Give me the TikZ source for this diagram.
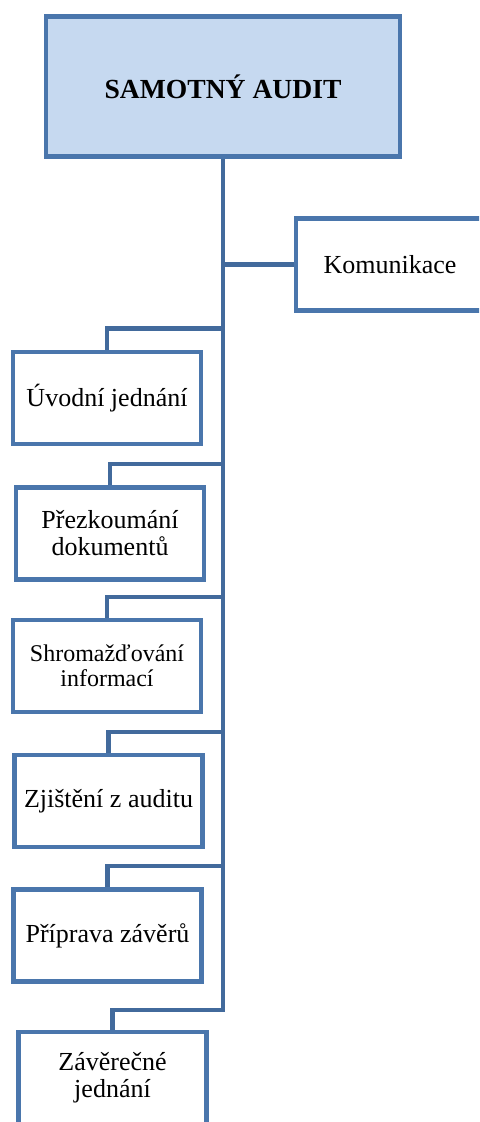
\documentclass[tikz,border=0pt]{standalone}
\usepackage{fontspec}
\setmainfont{Liberation Serif}
\usepackage{tikz}
\definecolor{frameblue}{RGB}{74,118,172}
\definecolor{linkblue}{RGB}{66,106,156}
\definecolor{headfill}{RGB}{198,217,240}

\begin{document}
\begin{tikzpicture}
[
x=0.5pt,y=-0.5pt,
stagebox/.style={draw=frameblue,line width=2.3pt,fill=white,align=center,
            minimum width=94pt,minimum height=46pt,inner sep=2pt,
            font=\fontsize{13}{13.5}\selectfont},
headbox/.style={stagebox,fill=headfill,minimum width=177pt,minimum height=70pt,
            font=\fontsize{13.8}{15}\selectfont\bfseries},
link/.style={draw=linkblue,line width=2.2pt},
]
\clip (0,0) rectangle (479,1122);

%Place the nodes
\node[headbox] (audit) at (223,86.5) {SAMOTNÝ AUDIT};
\node[stagebox] (komunikace) at (390,264.5) {Komunikace};
\node[stagebox] (uvod) at (107,398) {Úvodní jednání};
\node[stagebox] (prezk) at (110,533.5) {Přezkoumání\\dokumentů};
\node[stagebox,font=\fontsize{12}{12.5}\selectfont] (shrom) at (107,666) {Shromažďování\\informací};
\node[stagebox] (zjist) at (108.5,801) {Zjištění z auditu};
\node[stagebox] (priprava) at (107.5,935.5) {Příprava závěrů};
\node[stagebox] (zaver) at (112.5,1078) {Závěrečné\\jednání};
\coordinate (trunkend) at (223,1010);

%Draw the connections
\draw[link] (audit.south) -- (trunkend) -| (zaver.north);
\draw[link] (komunikace.west) -- (komunikace.west -| audit.south);
\foreach \n in {uvod,prezk,shrom,zjist,priprava}
  \draw[link] (\n.north) -- ++(0,-21) coordinate (\n-t) -- (\n-t -| audit.south);
\end{tikzpicture}
\end{document}
